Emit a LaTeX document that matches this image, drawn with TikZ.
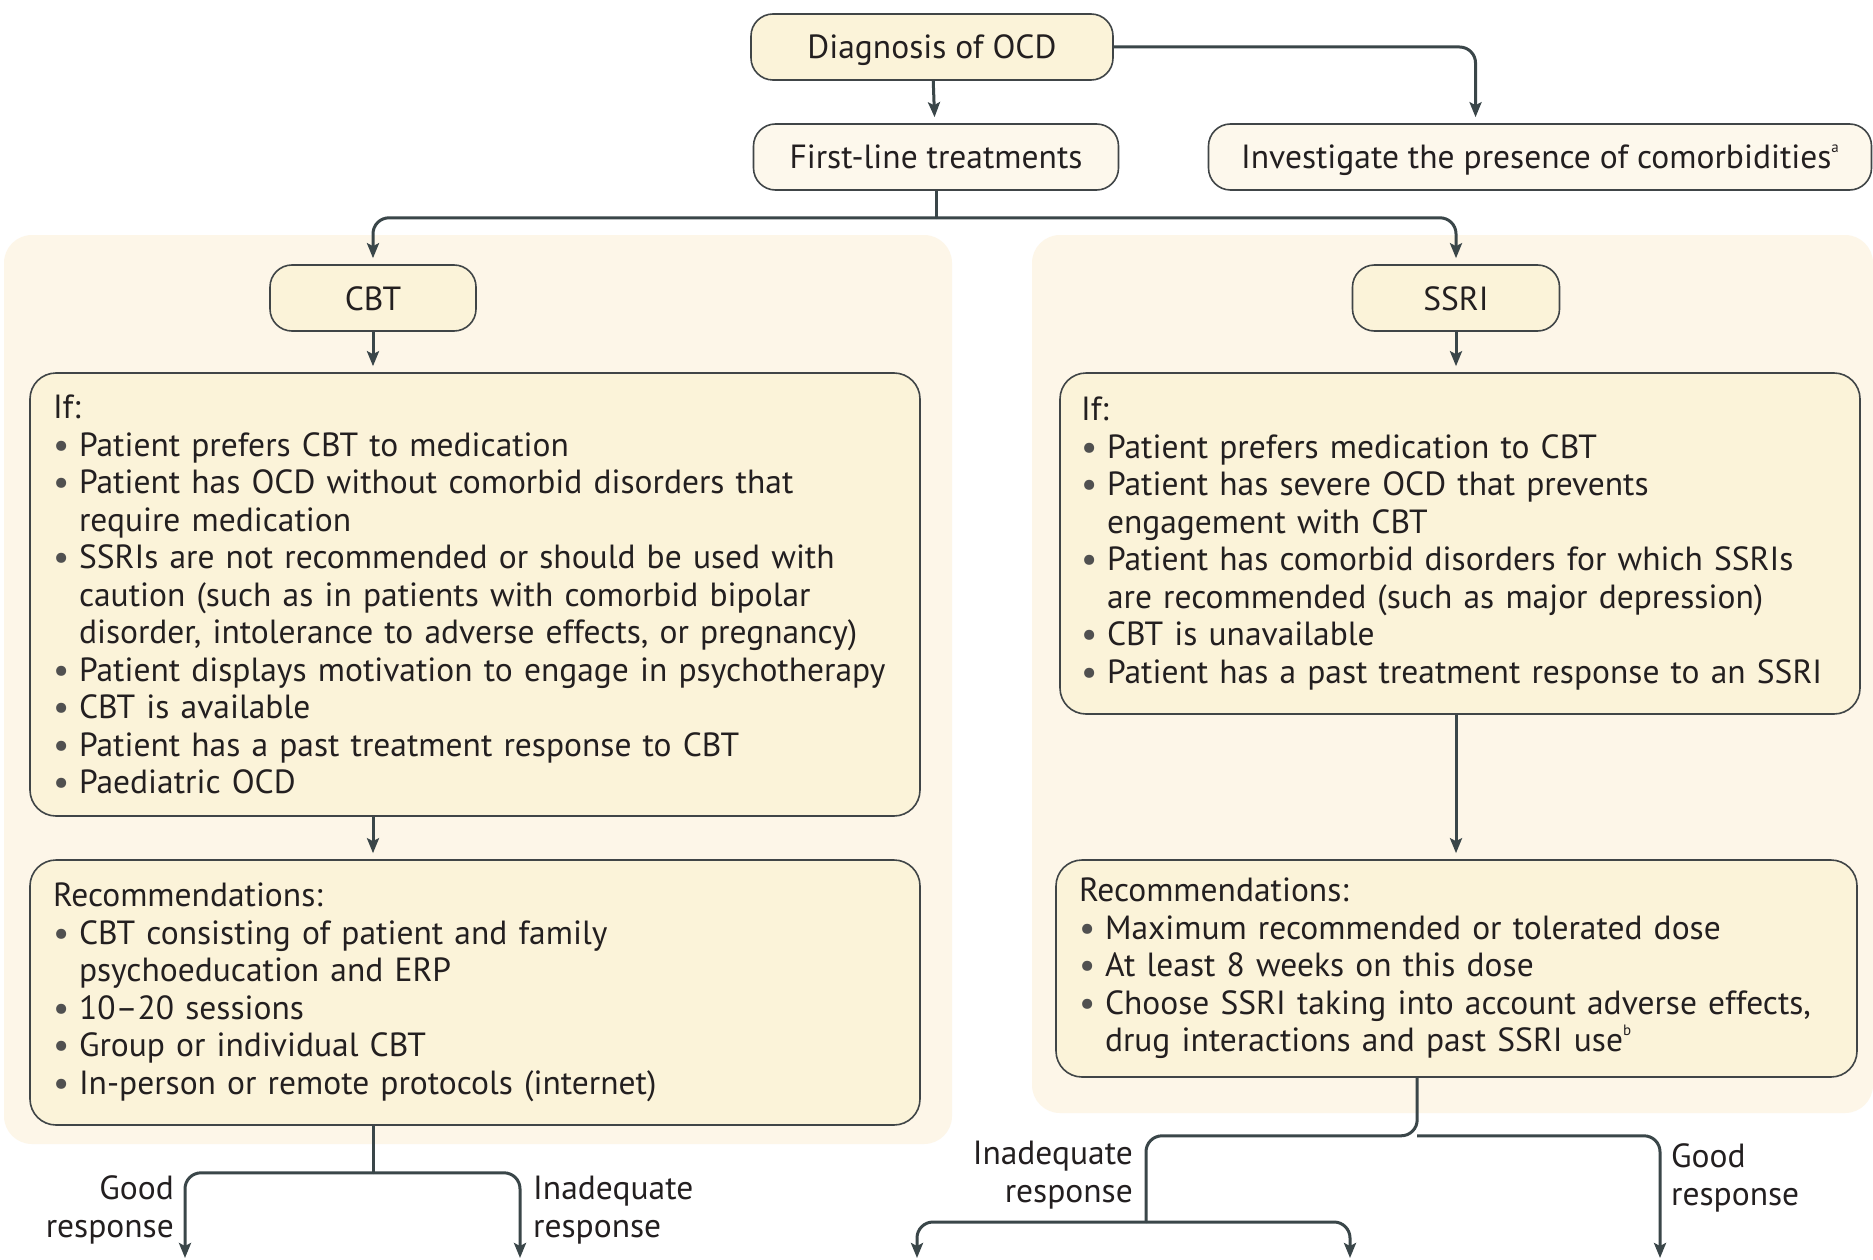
\documentclass[tikz,border=0pt]{standalone}
\usepackage{fontspec}
\setmainfont{PT Sans}
\usetikzlibrary{arrows.meta,calc}

\definecolor{panel}{HTML}{FDF6E8}
\definecolor{boxfill}{HTML}{FBF3D9}
\definecolor{softfill}{HTML}{FDF8EC}
\definecolor{edge}{HTML}{404547}
\definecolor{wire}{HTML}{3A4649}
\definecolor{ink}{HTML}{231F20}
\definecolor{dotgray}{HTML}{505050}

\newcommand{\fs}{\fontsize{33.5}{37.5}\selectfont}
\newcommand{\itm}{\makebox[26pt][l]{\raisebox{-1pt}[0pt][0pt]{\textcolor{dotgray}{\fontsize{36}{36}\selectfont\textbullet}}}}
\newcommand{\cont}{\hspace*{26pt}}
\newcommand{\note}[1]{\raisebox{0.48em}[0pt][0pt]{\fontsize{15}{15}\selectfont #1}}

\tikzset{
  tag/.style={draw=edge, line width=1.6pt, fill=boxfill, rounded corners=22pt,
    text=ink, font=\fs, inner sep=0pt, text height=26pt, text depth=2pt},
  softtag/.style={tag, fill=softfill},
  listbox/.style={draw=edge, line width=1.6pt, fill=boxfill, rounded corners=26pt,
    text=ink, font=\fs, align=left, inner xsep=23pt, inner ysep=0pt},
  link/.style={draw=wire, line width=3pt, rounded corners=16pt},
  arrow/.style={link, -{Stealth[length=15pt, width=12pt, inset=3pt]}, shorten >=6pt},
  lbl/.style={text=ink, font=\fs, inner sep=0pt}
}

\begin{document}
\begin{tikzpicture}[x=1pt, y=-1pt]
\useasboundingbox (0,0) rectangle (1873,1260);
\fill[white] (0,0) rectangle (1873,1260);

% background panels of the two treatment branches
\fill[panel, rounded corners=28pt] (4,235) rectangle (952,1144);
\fill[panel, rounded corners=28pt] (1032,235) rectangle (1873,1113);

% top of the pathway
\node[tag, minimum width=362pt, minimum height=66pt] (diag) at (932,47) {Diagnosis of OCD};
\node[softtag, minimum width=365pt, minimum height=66pt] (first) at (936,157) {First-line treatments};
\node[softtag, minimum width=663pt, minimum height=66pt] (inv) at (1540,157)
  {Investigate the presence of comorbidities\note{a}};

% branch heads
\node[tag, minimum width=206pt, minimum height=66pt] (cbt) at (373,298) {CBT};
\node[tag, minimum width=207pt, minimum height=66pt] (ssri) at (1456,298) {SSRI};

% CBT branch
\node[listbox, text width=844pt, minimum height=443pt] (ifL) at (475,594.5) {%
If:\\
\itm Patient prefers CBT to medication\\
\itm Patient has OCD without comorbid disorders that\\
\cont require medication\\
\itm SSRIs are not recommended or should be used with\\
\cont caution (such as in patients with comorbid bipolar\\
\cont disorder, intolerance to adverse effects, or pregnancy)\\
\itm Patient displays motivation to engage in psychotherapy\\
\itm CBT is available\\
\itm Patient has a past treatment response to CBT\\
\itm Paediatric OCD};

\node[listbox, text width=844pt, minimum height=265pt] (recL) at (475,992.5) {%
Recommendations:\\
\itm CBT consisting of patient and family\\
\cont psychoeducation and ERP\\
\itm 10--20 sessions\\
\itm Group or individual CBT\\
\itm In-person or remote protocols (internet)};

% SSRI branch
\node[listbox, inner xsep=21pt, text width=758pt, minimum height=341pt] (ifR) at (1460,543.5) {%
If:\\
\itm Patient prefers medication to CBT\\
\itm Patient has severe OCD that prevents\\
\cont engagement with CBT\\
\itm Patient has comorbid disorders for which SSRIs\\
\cont are recommended (such as major depression)\\
\itm CBT is unavailable\\
\itm Patient has a past treatment response to an SSRI};

\node[listbox, text width=755pt, minimum height=217pt] (recR) at (1456.5,968.5) {%
Recommendations:\\
\itm Maximum recommended or tolerated dose\\
\itm At least 8 weeks on this dose\\
\itm Choose SSRI taking into account adverse effects,\\
\cont drug interactions and past SSRI use\note{b}};

% connectors at the top
\coordinate (invin) at ($(inv.north west)!0.403!(inv.north east)$);
\draw[arrow] (diag) -- (first);
\draw[arrow] (diag.east) -| (invin);
\coordinate (split) at ($(first.south)+(0,27)$);
\draw[link] (first.south) -- (split);
\draw[arrow] (split) -| (cbt.north);
\draw[arrow] (split) -| (ssri.north);

% connectors inside the branches
\draw[arrow] (cbt) -- (ifL.north -| cbt);
\draw[arrow] (ifL.south -| cbt) -- (recL.north -| cbt);
\draw[arrow] (ssri) -- (ifR.north -| ssri);
\draw[arrow] (ifR.south -| ssri) -- (recR.north -| ssri);

% outcomes of CBT
\coordinate (cbtout) at (recL.south -| cbt);
\coordinate (cbtsplit) at ($(cbtout)+(0,47)$);
\coordinate (cbtgood) at (185,1260);
\coordinate (cbtinad) at (520,1260);
\draw[link] (cbtout) -- (cbtsplit);
\draw[arrow, shorten >=2pt] (cbtsplit) -| (cbtgood);
\draw[arrow, shorten >=2pt] (cbtsplit) -| (cbtinad);
\node[lbl, anchor=east, align=right] (cbtgoodlbl) at (174,1210) {Good\\response};
\node[lbl, anchor=west, align=left] (cbtinadlbl) at (533,1210) {Inadequate\\response};

% outcomes of SSRI
\coordinate (ssriout) at ($(recR.south west)!0.451!(recR.south east)$);
\coordinate (ssrisplit) at ($(ssriout)+(0,58)$);
\coordinate (inadknee) at (1146,1222);
\coordinate (ssriinadA) at (917,1260);
\coordinate (ssriinadB) at (1350,1260);
\coordinate (ssrigood) at (1660,1260);
\draw[link] (ssriout) -- (ssrisplit) -| (inadknee);
\draw[arrow, shorten >=2pt] (inadknee) -| (ssriinadA);
\draw[arrow, shorten >=2pt] (inadknee) -| (ssriinadB);
\draw[arrow, shorten >=2pt] (ssrisplit) -| (ssrigood);
\node[lbl, anchor=east, align=right] (ssriinadlbl) at (1133,1175) {Inadequate\\response};
\node[lbl, anchor=west, align=left] (ssrigoodlbl) at (1671,1178) {Good\\response};
\end{tikzpicture}
\end{document}
